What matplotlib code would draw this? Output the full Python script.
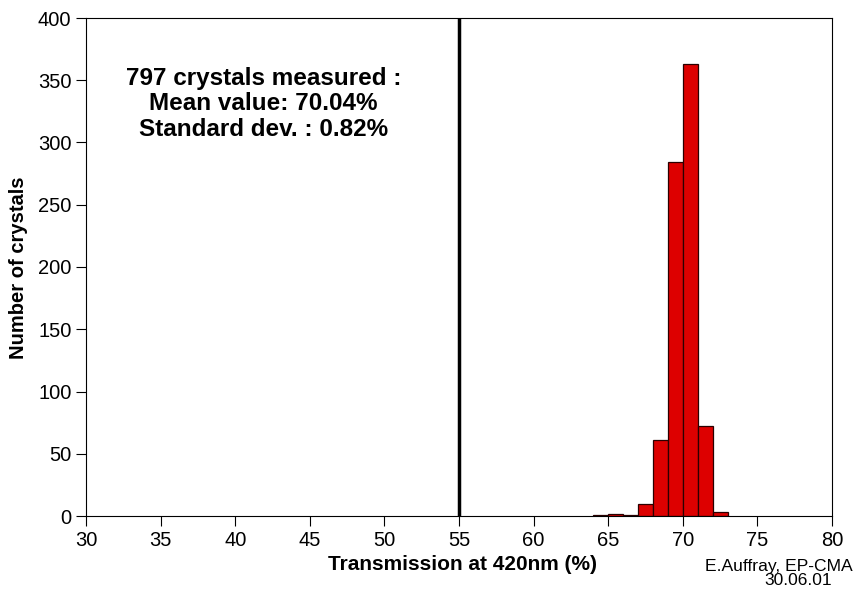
import matplotlib
matplotlib.use('Agg')
import matplotlib.pyplot as plt

# histogram of transmission values (1% wide bins)
bin_left = [64, 65, 66, 67, 68, 69, 70, 71, 72]
counts = [1, 2, 1, 10, 61, 284, 363, 72, 3]
limit_x = 55  # specification line

x_ticks = [30, 35, 40, 45, 50, 55, 60, 65, 70, 75, 80]
y_ticks = [0, 50, 100, 150, 200, 250, 300, 350, 400]

info = "797 crystals measured :\nMean value: 70.04%\nStandard dev. : 0.82%"

plt.rcParams['font.family'] = ['Liberation Sans', 'DejaVu Sans']

fig = plt.figure(figsize=(8.61, 5.89), dpi=100)
ax = fig.add_axes([86/861, 1 - 516/589, 746/861, 498/589])

ax.bar(bin_left, counts, width=1, align='edge', color='#dd0000',
       edgecolor='#2a0000', linewidth=0.9, zorder=2)
ax.axvline(limit_x, color='black', lw=2.5, zorder=3)

ax.set_xlim(30, 80)
ax.set_ylim(0, 400)
ax.set_xticks(x_ticks)
ax.set_yticks(y_ticks)
ax.tick_params(direction='out', length=7.5, width=0.8, labelsize=14.5, pad=3)
for s in ax.spines.values():
    s.set_linewidth(0.8)

ax.text(41.9, 331, info, ha='center', va='center', multialignment='center',
        fontsize=17.5, fontweight='bold', linespacing=1.15)

fig.text(462/861, 1 - 565/589, 'Transmission at 420nm (%)', ha='center',
         va='center', fontsize=15, fontweight='bold')
fig.text(19/861, 1 - 268/589, 'Number of crystals', ha='center', va='center',
         rotation=90, fontsize=14.5, fontweight='bold')

# author / date stamp, bottom right
fig.text(705/861, 1 - 566/589, 'E.Auffray, EP-CMA', ha='left', va='center',
         fontsize=12.6)
fig.text(798/861, 1 - 588/589, '30.06.01', ha='center', va='bottom',
         fontsize=12.5)

fig.savefig('out.png', dpi=100)
